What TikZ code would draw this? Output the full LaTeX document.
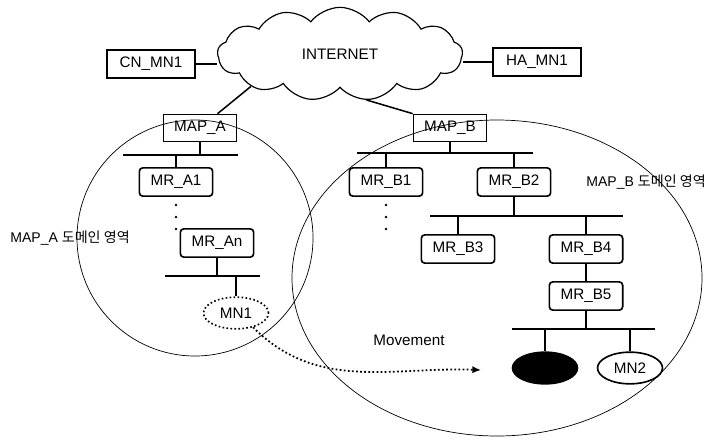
\documentclass[tikz,border=0pt]{standalone}
\usepackage{fontspec}
\setmainfont{Liberation Sans}
\newfontfamily\kofont{Noto Sans CJK KR}
\usetikzlibrary{arrows.meta, shapes.geometric, shapes.symbols}

\begin{document}
\begin{tikzpicture}[
    x=0.03cm, y=-0.03cm,
    font=\fontsize{13}{15}\selectfont,
    host/.style={draw, line width=1.2pt, minimum width=2.65cm, minimum height=0.84cm},
    map/.style={draw, line width=1.2pt, minimum width=2.2cm, minimum height=0.82cm, inner sep=1pt},
    router/.style={draw, line width=1.4pt, rounded corners=3pt, minimum width=2.2cm, minimum height=0.85cm},
    mobile/.style={draw, ellipse, line width=1.4pt, minimum width=1.95cm, minimum height=0.95cm, inner sep=1pt},
    bus/.style={line width=2pt},
    ln/.style={line width=1.6pt},
    wire/.style={line width=1.3pt},
    area/.style={line width=0.6pt},
    move/.style={dotted, line width=1.5pt, -{Latex[length=2.6mm, width=2.2mm]}},
    lbl/.style={font=\fontsize{12}{14}\selectfont}
]
\useasboundingbox (0,0) rectangle (712,440);
% domain areas
\draw[area] (195,238) circle[radius=118];
\draw[area] (497,278) ellipse[x radius=205, y radius=158];
\node[lbl] (doma) at (70,238) {MAP\_A {\kofont 도메인 영역}};
\node[lbl] (domb) at (646,182) {MAP\_B {\kofont 도메인 영역}};
% internet and hosts
\node[draw, cloud, cloud puffs=13, cloud puff arc=105, aspect=2.6, line width=1pt,
      minimum width=7.35cm, minimum height=2.8cm] (inet) at (340,54) {INTERNET};
\node[host] (cn) at (151,64) {CN\_MN1};
\node[host] (ha) at (537,62) {HA\_MN1};
% anchor points
\node[map] (mapa) at (200,128) {MAP\_A};
\node[map] (mapb) at (450,128) {MAP\_B};
% routers
\node[router] (mra1) at (176,182) {MR\_A1};
\node[router] (mran) at (217,243) {MR\_An};
\node[router] (mrb1) at (386,182) {MR\_B1};
\node[router] (mrb2) at (514,182) {MR\_B2};
\node[router] (mrb3) at (458,249) {MR\_B3};
\node[router] (mrb4) at (586,249) {MR\_B4};
\node[router] (mrb5) at (586,296) {MR\_B5};
% mobile nodes
\node[mobile, dotted] (mn1) at (236,313) {MN1};
\node[mobile, fill=black] (mnx) at (545,368) {};
\node[mobile] (mn2) at (630,368) {MN2};
% omitted routers
\fill (176,205) circle[radius=1.3] (176,217) circle[radius=1.3] (176,229) circle[radius=1.3];
\fill (386,205) circle[radius=1.3] (386,217) circle[radius=1.3] (386,229) circle[radius=1.3];
% buses
\coordinate (ba1) at (123,155); \coordinate (ba2) at (238,155);
\coordinate (ban1) at (165,276); \coordinate (ban2) at (260,276);
\coordinate (bb1) at (357,153); \coordinate (bb2) at (533,153);
\coordinate (bc1) at (430,216); \coordinate (bc2) at (623,216);
\coordinate (bd1) at (512,329); \coordinate (bd2) at (655,329);
\draw[bus] (ba1) -- (ba2);
\draw[bus] (ban1) -- (ban2);
\draw[bus] (bb1) -- (bb2);
\draw[bus] (bc1) -- (bc2);
\draw[bus] (bd1) -- (bd2);
% links
\draw[wire] (cn) -- (cn -| inet.west);
\draw[wire] (ha) -- (ha -| inet.east);
\draw[wire] (inet.200) -- (mapa);
\draw[wire] (inet.300) -- (mapb.north west);
\draw[ln] (mapa) -- (mapa |- ba1);
\draw[ln] (mra1) -- (mra1 |- ba1);
\draw[ln] (mran) -- (mran |- ban1);
\draw[ln] (mn1) -- (mn1 |- ban1);
\draw[ln] (mapb) -- (mapb |- bb1);
\draw[ln] (mrb1) -- (mrb1 |- bb1);
\draw[ln] (mrb2) -- (mrb2 |- bb1);
\draw[ln] (mrb2) -- (mrb2 |- bc1);
\draw[ln] (mrb3) -- (mrb3 |- bc1);
\draw[ln] (mrb4) -- (mrb4 |- bc1);
\draw[ln] (mrb4) -- (mrb5);
\draw[ln] (mrb5) -- (mrb5 |- bd1);
\draw[ln] (mnx) -- (mnx |- bd1);
\draw[ln] (mn2) -- (mn2 |- bd1);
% movement
\coordinate (dest) at (481,370);
\node (mvlbl) at (409,340) {Movement};
\draw[move] (mn1.-40) to[out=-45, in=178] (dest);
\end{tikzpicture}
\end{document}
